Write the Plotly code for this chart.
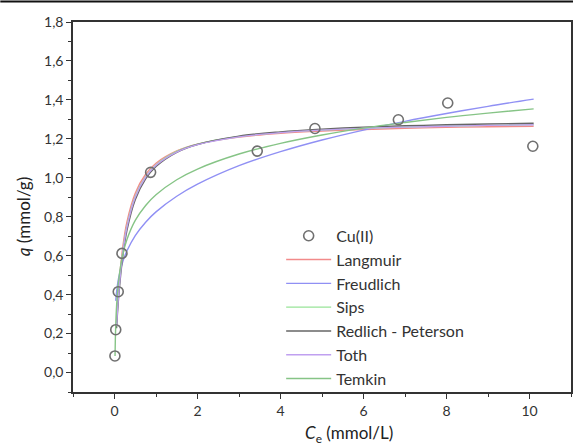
import plotly.graph_objects as go

# Experimental data
ce_exp = [0.01, 0.03, 0.09, 0.18, 0.87, 3.44, 4.83, 6.84, 8.03, 10.08]
q_exp = [0.085, 0.22, 0.415, 0.612, 1.028, 1.137, 1.253, 1.298, 1.384, 1.162]

# Model curves
ce_fit = [0.05, 0.1, 0.2, 0.3, 0.5, 0.75, 1, 1.5, 2, 3, 4, 5, 6, 7, 8, 9, 10.1]
q_langmuir = [0.258, 0.430, 0.645, 0.774, 0.921, 1.018, 1.075, 1.138, 1.173, 1.209,
              1.229, 1.240, 1.248, 1.254, 1.259, 1.262, 1.265]
q_sips = [0.243, 0.409, 0.622, 0.752, 0.904, 1.006, 1.066, 1.135, 1.172, 1.212,
          1.233, 1.245, 1.254, 1.261, 1.266, 1.269, 1.273]
q_rp = [0.227, 0.387, 0.598, 0.730, 0.887, 0.994, 1.058, 1.131, 1.171, 1.214,
        1.236, 1.250, 1.260, 1.267, 1.272, 1.276, 1.280]
q_toth = [0.239, 0.403, 0.616, 0.747, 0.900, 1.003, 1.064, 1.132, 1.170, 1.210,
          1.232, 1.245, 1.254, 1.260, 1.265, 1.269, 1.272]

ce_freu = [0.03, 0.05, 0.1, 0.2, 0.3, 0.5, 0.75, 1, 1.5, 2, 3, 4, 5, 6, 7, 8, 9, 10.1]
q_freu = [0.368, 0.414, 0.486, 0.570, 0.625, 0.703, 0.772, 0.825, 0.905, 0.967, 1.062,
          1.134, 1.194, 1.245, 1.290, 1.330, 1.367, 1.404]

ce_temkin = [0.013, 0.02, 0.03, 0.05, 0.1, 0.2, 0.3, 0.5, 0.75, 1, 1.5, 2, 3, 4, 5, 6, 7, 8, 9, 10.1]
q_temkin = [0.085, 0.167, 0.244, 0.342, 0.474, 0.606, 0.683, 0.781, 0.858, 0.913, 0.990,
            1.045, 1.122, 1.177, 1.220, 1.255, 1.284, 1.310, 1.332, 1.354]

FONT = "Lato"
fig = go.Figure()

fig.add_trace(go.Scatter(x=ce_fit, y=q_langmuir, mode="lines", name="Langmuir", legendrank=2,
                         line=dict(color="#f28a8a", width=1.4, shape="spline")))
fig.add_trace(go.Scatter(x=ce_freu, y=q_freu, mode="lines", name="Freudlich", legendrank=3,
                         line=dict(color="#9090f4", width=1.4, shape="spline")))
fig.add_trace(go.Scatter(x=ce_fit, y=q_sips, mode="lines", name="Sips", legendrank=4,
                         line=dict(color="#98e498", width=1.4, shape="spline")))
fig.add_trace(go.Scatter(x=ce_fit, y=q_rp, mode="lines", name="Redlich - Peterson", legendrank=5,
                         line=dict(color="#666666", width=1.4, shape="spline")))
fig.add_trace(go.Scatter(x=ce_fit, y=q_toth, mode="lines", name="Toth", legendrank=6,
                         line=dict(color="#c0a0f0", width=1.4, shape="spline")))
fig.add_trace(go.Scatter(x=ce_temkin, y=q_temkin, mode="lines", name="Temkin", legendrank=7,
                         line=dict(color="#86c486", width=1.4, shape="spline")))
fig.add_trace(go.Scatter(x=ce_exp, y=q_exp, mode="markers", name="Cu(II)", legendrank=1,
                         marker=dict(symbol="circle-open", size=10, color="#707070",
                                     line=dict(width=1.6, color="#707070"))))

axis_common = dict(showline=True, linecolor="#333", linewidth=1.5, mirror=True,
                   ticks="outside", ticklen=5, tickwidth=1.3, tickcolor="#333",
                   showgrid=False, zeroline=False,
                   tickfont=dict(family=FONT, size=14, color="#333"))

fig.update_xaxes(range=[-1, 11], dtick=2, tick0=0,
                 minor=dict(ticks="outside", dtick=1, tick0=0, ticklen=3, tickcolor="#333"),
                 **axis_common)
fig.update_yaxes(range=[-0.1, 1.8], dtick=0.2, tick0=0, tickformat=".1f",
                 minor=dict(ticks="outside", dtick=0.1, tick0=0, ticklen=3, tickcolor="#333"),
                 **axis_common)

fig.update_layout(
    width=575, height=448,
    margin=dict(l=73, r=2, t=22, b=56),
    paper_bgcolor="white", plot_bgcolor="white",
    separators=",.",
    legend=dict(x=0.418, y=0.468, xanchor="left", yanchor="top",
                traceorder="normal", itemwidth=45,
                font=dict(family=FONT, size=16, color="#333"),
                bgcolor="rgba(0,0,0,0)"),
    showlegend=True,
    annotations=[
        dict(text="<i>C</i><sub>e</sub> (mmol/L)", xref="paper", yref="paper",
             x=(350 - 73) / 500, y=-(434 - 392) / 370, xanchor="center", yanchor="middle",
             showarrow=False, font=dict(family=FONT, size=17, color="#222")),
        dict(text="<i>q</i> (mmol/g)", xref="paper", yref="paper",
             x=-(73 - 24) / 500, y=(392 - 217) / 370, xanchor="center", yanchor="middle",
             textangle=-90, showarrow=False, font=dict(family=FONT, size=17, color="#222")),
    ],
    shapes=[dict(type="line", xref="paper", yref="paper",
                 x0=-73 / 500, x1=1 + 2 / 500, y0=1 + 20.5 / 370, y1=1 + 20.5 / 370,
                 line=dict(color="#111", width=2))],
)

fig.write_html("out.html", config={"displayModeBar": False},
               post_script="document.body.style.margin='0';document.body.style.overflow='hidden';")
